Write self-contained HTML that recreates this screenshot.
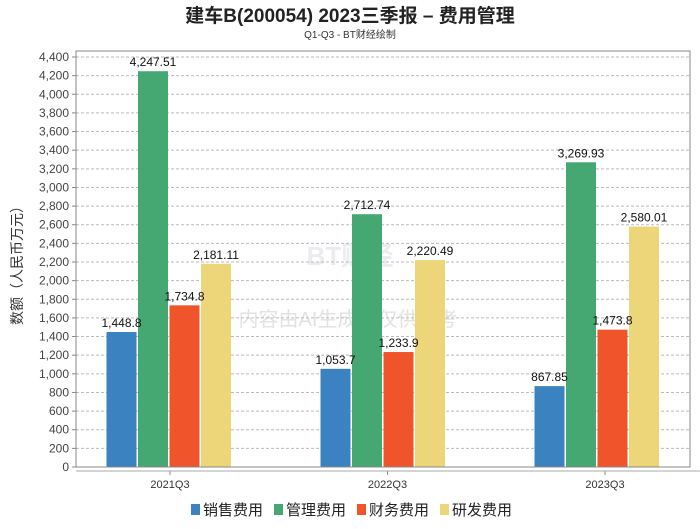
<!DOCTYPE html>
<html><head><meta charset="utf-8"><style>
body{margin:0;background:#fff;font-family:"Liberation Sans","Noto Sans CJK SC",sans-serif}
svg text{font-family:"Liberation Sans","Noto Sans CJK SC",sans-serif}
</style></head><body>
<svg id="c" width="700" height="524">
<text x="350" y="22" text-anchor="middle" font-size="19" font-weight="bold" fill="#222">建车B(200054) 2023三季报 – 费用管理</text>
<text x="350" y="38" text-anchor="middle" font-size="10" fill="#333">Q1-Q3 - BT财经绘制</text>
<text transform="translate(22,262) rotate(-90)" text-anchor="middle" font-size="14" fill="#333">数额（人民币万元）</text>
<text x="348" y="326" text-anchor="middle" font-size="20" fill="#e2e2e2">内容由AI生成，仅供参考</text>
<text x="350" y="265" text-anchor="middle" font-size="26" fill="#ececf0" font-weight="bold">BT财经</text>
<g id="grid"></g><g id="bars"></g><g id="labels"></g>
<rect x="76" y="51" width="614" height="416" fill="none" stroke="#888" stroke-width="1"/>
<line x1="76" y1="471" x2="700" y2="471" stroke="#aaa"/>
<g id="legend"></g>
</svg>
<script>
const categories=["2021Q3","2022Q3","2023Q3"];
const seriesNames=["销售费用","管理费用","财务费用","研发费用"];
const colors=["#3a82c0","#45a873","#f0542a","#edd57a"];
const sales=[1448.8,1053.7,867.85];
const admin=[4247.51,2712.74,3269.93];
const fin=[1734.8,1233.9,1473.8];
const rnd=[2181.11,2220.49,2580.01];
const salesLbl=["1,448.8","1,053.7","867.85"];
const adminLbl=["4,247.51","2,712.74","3,269.93"];
const finLbl=["1,734.8","1,233.9","1,473.8"];
const rndLbl=["2,181.11","2,220.49","2,580.01"];
const yTicks=[0,200,400,600,800,1000,1200,1400,1600,1800,2000,2200,2400,2600,2800,3000,3200,3400,3600,3800,4000,4200,4400];
const series=[sales,admin,fin,rnd], labels=[salesLbl,adminLbl,finLbl,rndLbl];
const NS="http://www.w3.org/2000/svg";
const y=v=>467-v*410/4400;
const xc=i=>168.5+214*i;
const xt=i=>170+217.5*i;
function mk(t,a,p){const e=document.createElementNS(NS,t);for(const k in a)e.setAttribute(k,a[k]);p.appendChild(e);return e;}
const g=document.getElementById('grid');
yTicks.forEach(t=>{
 if(t>0){const l=mk('line',{x1:76,x2:690,y1:y(t),y2:y(t),stroke:'#bbb','stroke-dasharray':'3,2'},g);
 
 }
 const tk=mk('line',{x1:72,x2:76,y1:y(t),y2:y(t),stroke:'#888'},g);
 
 
 const tx=mk('text',{x:69,y:y(t)+4,'text-anchor':'end','font-size':12,fill:'#444'},g);
 tx.textContent=t.toLocaleString('en-US');
 
 
});
categories.forEach((c,i)=>{
 const tk=mk('line',{x1:xt(i),x2:xt(i),y1:471,y2:475,stroke:'#888'},g);
 
 
 const tx=mk('text',{x:xt(i),y:488,'text-anchor':'middle','font-size':11,fill:'#333'},g);
 tx.textContent=c;
 
 
});
const b=document.getElementById('bars'),lb=document.getElementById('labels');
series.forEach((s,j)=>{s.forEach((v,i)=>{
 const x0=xc(i)-62+j*31.5;
 const r=mk('rect',{x:x0,y:y(v),width:30,height:467-y(v),fill:colors[j]},b);
 
 
 const t=mk('text',{x:x0+15,y:y(v)-5,'text-anchor':'middle','font-size':12,fill:'#111'},lb);
 t.textContent=labels[j][i];
 
 
});});
const lg=document.getElementById('legend');
seriesNames.forEach((n,j)=>{
 const x0=191+j*83;
 const r=mk('rect',{x:x0,y:504,width:9,height:11,fill:colors[j]},lg);
 
 
 const t=mk('text',{x:x0+12,y:515,'font-size':15,fill:'#222'},lg);
 t.textContent=n;
 
 
});
</script>
</body></html>
